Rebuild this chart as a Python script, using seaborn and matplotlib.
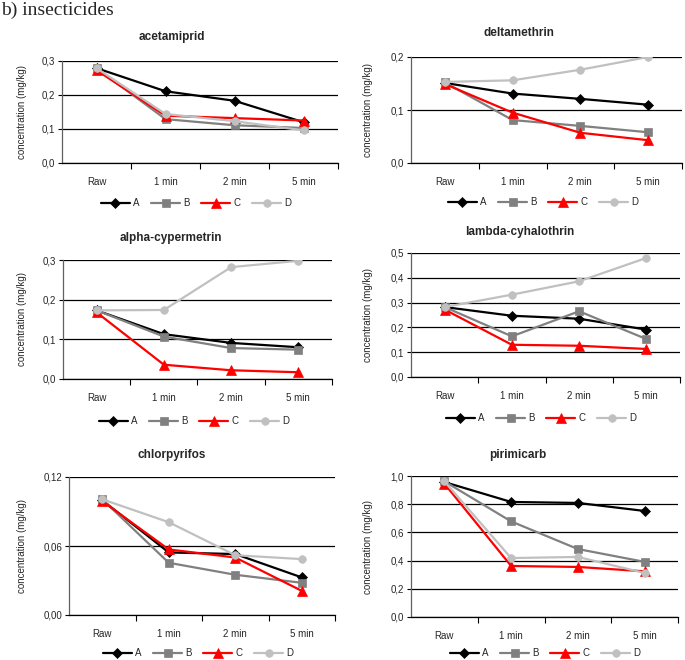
import matplotlib
matplotlib.use('Agg')
import matplotlib.pyplot as plt
from matplotlib.ticker import MultipleLocator, FuncFormatter, FixedLocator
import seaborn as sns
import pandas as pd

# values (mg/kg)
times = ['Raw', '1 min', '2 min', '5 min']
groups = ['A', 'B', 'C', 'D']

acetamiprid = {'A': [0.279, 0.211, 0.183, 0.120],
               'B': [0.279, 0.129, 0.111, 0.103],
               'C': [0.273, 0.139, 0.132, 0.125],
               'D': [0.279, 0.144, 0.123, 0.096]}
deltamethrin = {'A': [0.151, 0.131, 0.121, 0.110],
                'B': [0.152, 0.081, 0.070, 0.058],
                'C': [0.149, 0.095, 0.057, 0.043],
                'D': [0.153, 0.156, 0.176, 0.200]}
alpha_cypermetrin = {'A': [0.173, 0.113, 0.091, 0.080],
                     'B': [0.173, 0.107, 0.078, 0.074],
                     'C': [0.168, 0.036, 0.022, 0.017],
                     'D': [0.173, 0.174, 0.282, 0.298]}
lambda_cyhalothrin = {'A': [0.282, 0.247, 0.235, 0.191],
                      'B': [0.282, 0.164, 0.265, 0.153],
                      'C': [0.272, 0.130, 0.126, 0.113],
                      'D': [0.282, 0.332, 0.386, 0.480]}
chlorpyrifos = {'A': [0.0998, 0.0544, 0.0530, 0.0327],
                'B': [0.1006, 0.0454, 0.0350, 0.0280],
                'C': [0.0990, 0.0570, 0.0500, 0.0210],
                'D': [0.1006, 0.0807, 0.0520, 0.0486]}
pirimicarb = {'A': [0.957, 0.816, 0.809, 0.752],
              'B': [0.962, 0.678, 0.482, 0.391],
              'C': [0.946, 0.362, 0.355, 0.324],
              'D': [0.962, 0.418, 0.426, 0.312]}

titles = ['acetamiprid', 'deltamethrin', 'alpha-cypermetrin',
          'lambda-cyhalothrin', 'chlorpyrifos', 'pirimicarb']
datasets = [acetamiprid, deltamethrin, alpha_cypermetrin,
            lambda_cyhalothrin, chlorpyrifos, pirimicarb]
ymax = [0.3, 0.2, 0.3, 0.5, 0.12, 1.0]
ystep = [0.1, 0.1, 0.1, 0.1, 0.06, 0.2]
ydec = [1, 1, 1, 1, 2, 1]

colors = {'A': 'black', 'B': '#808080', 'C': '#ff0000', 'D': '#c0c0c0'}
markers = {'A': 'D', 'B': 's', 'C': '^', 'D': 'o'}
msizes = {'D': 5, 's': 6, '^': 7.5, 'o': 5.5}

sns.set_style('white')
plt.rcParams['font.family'] = ['Liberation Sans', 'DejaVu Sans']

W, H = 685, 660
fig = plt.figure(figsize=(W / 100, H / 100), dpi=100)

# axes boxes in pixels: left, top, right, bottom
boxes = [(62, 61, 338, 163), (411, 57, 682, 163),
         (63, 260, 332, 379), (411, 253, 680, 377),
         (69, 477, 335, 615), (411, 476, 678, 617)]
title_pos = [(172, 37), (519, 33), (171, 238), (520, 232), (172, 455), (518, 455)]
legend_pos = [(196, 203), (543, 202), (194, 421), (541, 418), (198, 653), (545, 653)]
ylabel_x = [27, 373, 27, 373, 27, 373]

fig.text(0.002, 1 - 2 / H, 'b) insecticides', family='Liberation Serif',
         fontsize=14, va='top', ha='left')

for i, data in enumerate(datasets):
    l, t, r, b = boxes[i]
    ax = fig.add_axes([l / W, 1 - b / H, (r - l) / W, (b - t) / H])
    df = pd.DataFrame([(g, tm, v) for g in groups for tm, v in zip(times, data[g])],
                      columns=['group', 'time', 'conc'])
    sns.lineplot(data=df, x='time', y='conc', hue='group', style='group',
                 palette=colors, markers=markers, dashes=False, sort=False,
                 legend=False, ax=ax, lw=1.6, zorder=3)
    for ln in ax.get_lines():
        ln.set_markeredgecolor(ln.get_color())
        ln.set_markeredgewidth(0.5)
        ln.set_markersize(msizes.get(ln.get_marker(), 5))

    ax.set_xlim(-0.5, 3.5)
    ax.set_ylim(0, ymax[i])
    ax.yaxis.set_major_locator(MultipleLocator(ystep[i]))
    d = ydec[i]
    ax.yaxis.set_major_formatter(FuncFormatter(
        lambda v, p, d=d: f'{v:.{d}f}'.replace('.', ',')))
    ax.xaxis.set_minor_locator(FixedLocator([0.5, 1.5, 2.5, 3.5]))
    ax.tick_params(axis='x', which='major', length=0, labelsize=7, pad=10)
    ax.tick_params(axis='x', which='minor', length=4, direction='out',
                   width=0.8, color='black', bottom=True)
    ax.tick_params(axis='y', which='major', length=3, direction='out',
                   width=0.8, color='black', left=True, labelsize=7, pad=2)
    ax.yaxis.grid(True, color='black', lw=0.9)
    ax.set_axisbelow(True)
    for s in ['top', 'right']:
        ax.spines[s].set_visible(False)
    ax.spines['left'].set_color('#606060')
    ax.spines['bottom'].set_color('black')
    ax.spines['left'].set_linewidth(0.9)
    ax.spines['bottom'].set_linewidth(0.9)
    ax.set_xlabel('')
    ax.set_ylabel('concentration (mg/kg)', fontsize=7)
    ax.yaxis.set_label_coords((ylabel_x[i] - l) / (r - l), 0.5)

    tx, ty = title_pos[i]
    fig.text(tx / W, 1 - ty / H, titles[i], fontsize=8.5, fontweight='bold',
             ha='center', va='center')

    lx, ly = legend_pos[i]
    handles = ax.get_lines()[:4]
    ax.legend(handles, groups, loc='center', bbox_to_anchor=(lx / W, 1 - ly / H),
              bbox_transform=fig.transFigure, ncol=4, frameon=False,
              fontsize=7, handlelength=3.0, handletextpad=0.3,
              columnspacing=1.2, borderpad=0)

fig.savefig('out.png', dpi=100, facecolor='white')
